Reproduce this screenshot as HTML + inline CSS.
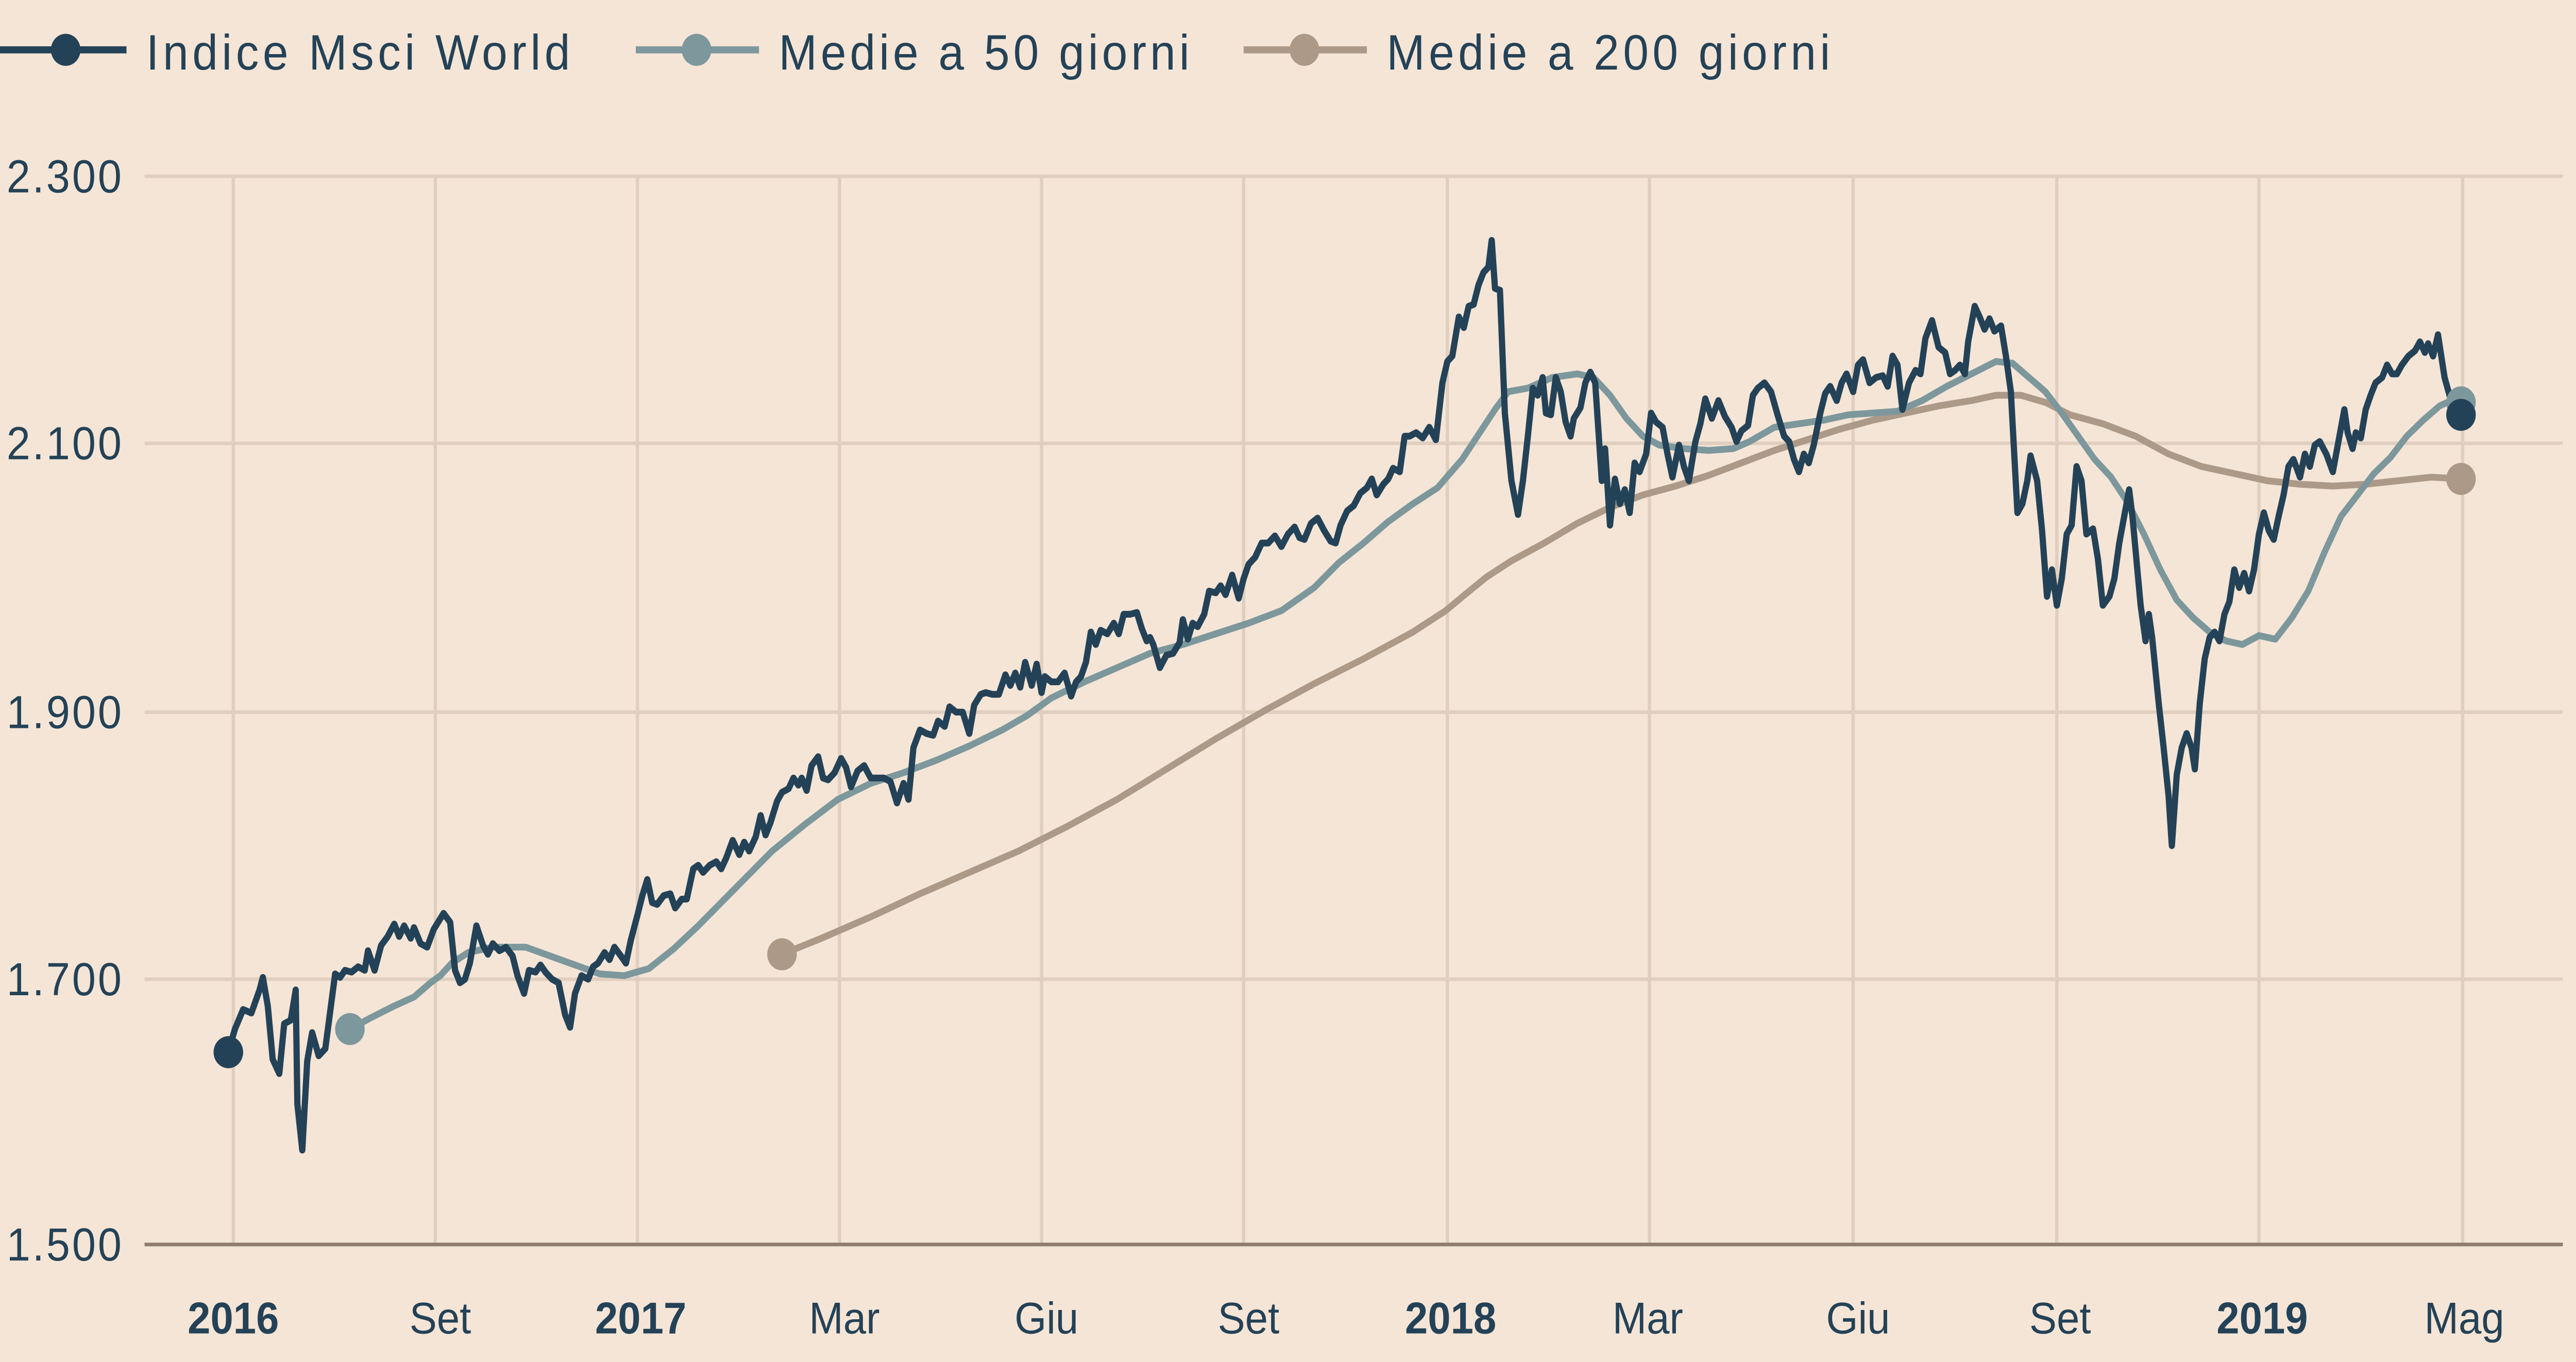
<!DOCTYPE html>
<html><head><meta charset="utf-8"><style>
html,body{margin:0;padding:0;background:#f5e5d6;width:100%;height:100%;overflow:hidden;}
svg{display:block;width:100vw;height:100vh;}
text{font-family:"Liberation Sans",sans-serif;fill:#244257;}
</style></head><body>
<svg viewBox="0 0 1568 765" preserveAspectRatio="none" xmlns="http://www.w3.org/2000/svg">
<rect width="1568" height="765" fill="#f5e5d6"/>
<g stroke="#e0cfbf" stroke-width="2">
<line x1="88" y1="99" x2="1560" y2="99"/>
<line x1="88" y1="249" x2="1560" y2="249"/>
<line x1="88" y1="400" x2="1560" y2="400"/>
<line x1="88" y1="550" x2="1560" y2="550"/>
<line x1="142" y1="99" x2="142" y2="699"/><line x1="265" y1="99" x2="265" y2="699"/>
<line x1="388" y1="99" x2="388" y2="699"/><line x1="511" y1="99" x2="511" y2="699"/>
<line x1="634" y1="99" x2="634" y2="699"/><line x1="757" y1="99" x2="757" y2="699"/>
<line x1="881" y1="99" x2="881" y2="699"/><line x1="1004" y1="99" x2="1004" y2="699"/>
<line x1="1128" y1="99" x2="1128" y2="699"/><line x1="1252" y1="99" x2="1252" y2="699"/>
<line x1="1375" y1="99" x2="1375" y2="699"/><line x1="1499" y1="99" x2="1499" y2="699"/>
</g>
<line x1="88" y1="699" x2="1560" y2="699" stroke="#8f7c6c" stroke-width="2"/>
<g font-size="26">
<text x="4" y="108" textLength="70">2.300</text>
<text x="4" y="258" textLength="70">2.100</text>
<text x="4" y="409" textLength="70">1.900</text>
<text x="4" y="559" textLength="70">1.700</text>
<text x="4" y="708" textLength="70">1.500</text>
</g>
<g font-size="25" text-anchor="middle">
<text x="142" y="749" font-weight="bold">2016</text>
<text x="268" y="749">Set</text>
<text x="390" y="749" font-weight="bold">2017</text>
<text x="514" y="749">Mar</text>
<text x="637" y="749">Giu</text>
<text x="760" y="749">Set</text>
<text x="883" y="749" font-weight="bold">2018</text>
<text x="1003" y="749">Mar</text>
<text x="1131" y="749">Giu</text>
<text x="1254" y="749">Set</text>
<text x="1377" y="749" font-weight="bold">2019</text>
<text x="1500" y="749">Mag</text>
</g>
<line x1="0" y1="28" x2="77" y2="28" stroke="#244257" stroke-width="4"/><circle cx="40" cy="28" r="9" fill="#244257"/>
<text x="89" y="39" font-size="28" textLength="258">Indice Msci World</text>
<line x1="387" y1="28" x2="462" y2="28" stroke="#7d989c" stroke-width="4"/><circle cx="424" cy="28" r="9" fill="#7d989c"/>
<text x="474" y="39" font-size="28" textLength="250">Medie a 50 giorni</text>
<line x1="757" y1="28" x2="832" y2="28" stroke="#ad9987" stroke-width="4"/><circle cx="794" cy="28" r="9" fill="#ad9987"/>
<text x="844" y="39" font-size="28" textLength="270">Medie a 200 giorni</text>
<g fill="none" stroke-linejoin="round" stroke-linecap="round" stroke-width="3.8">
<polyline stroke="#ad9987" points="476,536 500,527 530,515 560,502 590,490 620,478 650,464 680,449 710,432 740,415 770,399 800,384 830,370 860,355 880,343 893,333 905,324 920,315 940,305 960,294 980,285 1000,278 1020,273 1040,267 1060,260 1080,253 1100,247 1120,241 1140,236 1160,232 1180,228 1200,225 1215,222 1230,222 1245,226 1260,233 1280,238 1300,245 1320,255 1340,262 1360,266 1380,270 1400,272 1420,273 1440,272 1460,270 1480,268 1499,269"/>
<polyline stroke="#7d989c" points="213,578 225,572 240,565 252,560 262,552 268,548 275,541 285,535 300,532 320,532 335,537 350,542 365,547 380,548 395,544 410,533 425,520 440,506 455,492 470,478 490,463 510,449 530,440 550,434 570,427 590,419 610,410 625,402 640,392 660,383 680,375 700,367 720,362 740,356 760,350 780,343 800,330 815,316 830,305 845,293 860,283 875,274 890,258 900,244 910,230 918,220 930,218 945,212 960,210 970,212 980,222 990,235 1000,245 1010,250 1025,252 1040,253 1055,252 1065,248 1080,240 1095,238 1110,236 1125,233 1140,232 1155,231 1170,225 1185,217 1200,210 1215,203 1225,204 1235,212 1245,220 1255,232 1265,245 1275,258 1285,268 1295,282 1305,300 1315,320 1325,337 1335,347 1345,355 1355,360 1365,362 1375,357 1385,359 1395,347 1405,332 1415,310 1425,290 1435,278 1445,266 1455,257 1465,245 1475,236 1485,228 1492,225 1499,226"/>
<polyline stroke="#244257" points="139,591 143,578 148,567 153,569 158,556 160,549 163,565 166,595 170,603 173,575 177,573 180,556 181,620 184,646 187,596 190,580 194,593 198,589 204,547 207,549 210,545 214,546 218,543 222,545 224,534 228,545 232,531 236,526 240,519 243,526 246,520 250,527 252,521 256,530 260,532 264,522 270,513 274,518 277,545 280,552 283,550 286,541 290,520 294,531 297,536 300,530 304,534 308,532 312,537 315,548 319,558 322,545 326,546 329,542 332,546 336,550 340,552 344,570 347,577 350,558 354,548 358,550 361,543 364,541 368,535 371,539 374,532 378,537 381,541 384,528 388,514 391,503 394,494 397,507 400,508 404,503 408,502 411,510 415,505 418,505 422,488 425,486 428,490 432,486 436,484 439,488 442,482 446,472 450,480 453,473 456,478 460,470 463,458 466,469 469,462 473,450 476,445 480,443 483,437 486,441 488,437 491,444 494,430 498,425 501,437 504,438 508,434 512,426 515,431 518,442 522,433 526,430 530,437 534,437 538,437 542,439 546,451 550,440 553,449 556,420 560,410 564,412 568,413 571,405 575,408 578,397 582,400 586,400 590,412 593,396 597,390 600,389 604,390 608,390 612,379 615,385 618,378 621,386 624,372 628,385 631,373 634,389 636,380 640,383 644,383 648,378 652,391 655,383 658,380 661,372 664,355 667,362 670,354 674,356 678,350 681,356 684,345 688,345 692,344 695,353 698,360 700,358 702,362 706,375 710,368 714,367 718,361 720,348 723,359 726,350 729,352 733,345 736,332 740,333 743,329 746,334 750,323 754,336 757,325 760,317 764,313 768,305 772,305 776,301 780,307 784,300 788,296 791,302 794,303 798,294 802,291 806,298 810,304 813,305 816,295 820,287 824,284 828,277 832,274 835,269 838,278 842,272 845,269 848,263 852,265 855,245 858,245 862,243 866,246 870,240 874,247 878,215 881,203 884,200 888,178 891,184 894,172 897,171 900,160 903,153 906,150 908,135 910,162 913,163 916,232 920,270 924,289 927,270 930,245 933,218 936,222 939,212 941,232 944,233 947,212 950,220 953,237 956,245 958,235 962,229 965,215 968,209 971,215 975,270 977,252 980,295 983,269 986,283 989,275 992,288 995,260 998,265 1002,255 1005,232 1008,237 1012,240 1015,255 1018,268 1022,250 1025,262 1028,270 1032,248 1035,238 1038,224 1042,235 1046,225 1050,234 1054,240 1057,248 1060,242 1064,239 1067,222 1070,218 1074,215 1078,220 1082,233 1086,245 1089,248 1092,258 1095,265 1098,255 1101,260 1104,250 1108,232 1111,221 1114,217 1118,225 1121,215 1124,210 1128,220 1131,205 1134,202 1138,215 1142,212 1146,211 1149,217 1152,200 1155,205 1158,230 1162,215 1166,208 1169,210 1172,190 1176,180 1180,195 1184,198 1187,210 1190,208 1193,205 1196,210 1198,192 1202,172 1205,178 1208,185 1211,179 1214,186 1218,183 1221,200 1224,220 1228,288 1231,283 1234,270 1236,256 1240,270 1243,298 1246,335 1249,320 1252,340 1255,325 1258,300 1261,295 1264,262 1267,270 1270,300 1274,297 1277,314 1280,340 1284,335 1287,325 1290,305 1293,290 1296,275 1298,290 1301,320 1303,340 1306,360 1308,345 1310,358 1314,395 1317,420 1320,447 1322,475 1325,435 1328,420 1331,412 1334,420 1336,432 1339,395 1342,370 1345,358 1348,355 1351,360 1354,345 1357,338 1360,320 1363,330 1366,322 1369,332 1372,320 1375,300 1378,288 1381,298 1384,303 1387,290 1390,278 1393,262 1396,258 1400,268 1403,255 1406,262 1409,250 1412,248 1416,255 1420,265 1424,245 1427,230 1429,243 1432,252 1434,243 1437,246 1440,230 1443,222 1446,215 1450,212 1453,205 1456,210 1459,210 1462,205 1466,200 1470,197 1473,192 1476,198 1478,193 1481,200 1484,188 1488,212 1491,222 1495,230 1499,233"/>
</g>
<circle cx="139" cy="591" r="9" fill="#244257"/>
<circle cx="213" cy="578" r="9" fill="#7d989c"/>
<circle cx="476" cy="536" r="9" fill="#ad9987"/>
<circle cx="1498" cy="269" r="9" fill="#ad9987"/>
<circle cx="1498" cy="226" r="9" fill="#7d989c"/>
<circle cx="1498" cy="233" r="9" fill="#244257"/>
</svg>
</body></html>
